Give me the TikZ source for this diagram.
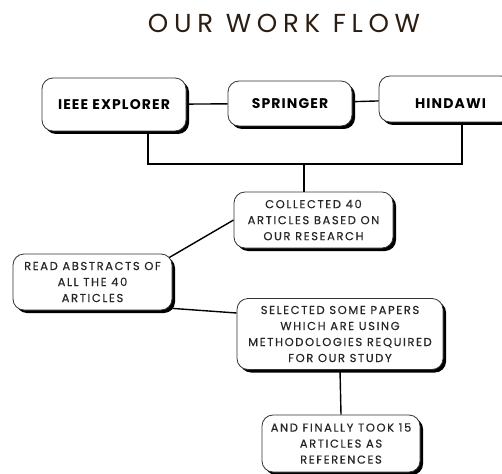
\documentclass[tikz,border=0pt]{standalone}
\usepackage{fontspec}
\setmainfont{Poppins}
\newfontfamily\titlefont[LetterSpace=22]{Poppins}
\newfontfamily\srcfont[LetterSpace=8]{Poppins}
\newfontfamily\stepfont[LetterSpace=14,FakeBold=0.4]{Poppins}
\usepackage{xcolor}
\usepackage{tikz}
\usetikzlibrary{shadows,backgrounds}

\definecolor{inkbrown}{HTML}{2B1D12}

\begin{document}
\begin{tikzpicture}[x=1pt,y=1pt,
    box/.style={draw=black!80, line width=0.8pt, fill=white, rounded corners=11pt,
        drop shadow={shadow xshift=3pt, shadow yshift=-3pt, fill=black, opacity=1},
        align=center, inner sep=0pt},
    srcbox/.style={box, font=\srcfont\bfseries\fontsize{14}{16}\selectfont},
    stepbox/.style={box, font=\stepfont\fontsize{11.5}{16}\selectfont, text=black!85},
    link/.style={black, line width=1.4pt}]
        \useasboundingbox (0,0) rectangle (502,-473);

        % Title
        \node[font=\titlefont\fontsize{26}{30}\selectfont, text=inkbrown] (title) at (284,-23) {OUR WORK FLOW};

        % Sources
        \node[srcbox, minimum width=144, minimum height=53] (ieee) at (114,-104.5) {IEEE EXPLORER};
        \node[srcbox, minimum width=124, minimum height=45] (springer) at (290,-103.5) {SPRINGER};
        \node[srcbox, minimum width=133, minimum height=46, text height=20pt, text depth=0pt] (hindawi) at (445.5,-99) {\hspace*{10pt}HINDAWI};

        % Steps
        \node[stepbox, minimum width=159, minimum height=56] (collected) at (313.5,-220)
            {COLLECTED 40\\ARTICLES BASED ON\\OUR RESEARCH};
        \node[stepbox, minimum width=159, minimum height=56] (read) at (92.5,-282)
            {READ ABSTRACTS OF\\ALL THE 40\\ARTICLES};
        \node[stepbox, minimum width=206, minimum height=71] (selected) at (340,-334)
            {SELECTED SOME PAPERS\\WHICH ARE USING\\METHODOLOGIES REQUIRED\\FOR OUR STUDY};
        \node[stepbox, minimum width=158, minimum height=57] (final) at (341,-443.5)
            {AND FINALLY TOOK 15\\ARTICLES AS\\REFERENCES};

        % Connectors
        \coordinate (join) at (304,-164);
        \begin{scope}[on background layer]
            \draw[link] (ieee) -- (springer);
            \draw[link] (springer) -- (hindawi);
            \draw[link] ([xshift=34pt]ieee.south) |- (join) -| ([xshift=16.5pt]hindawi.south);
            \draw[link] (join) -- (collected.north -| join);
            \draw[link] (collected.west) -- ([xshift=-5pt,yshift=-5pt]read.north east);
            \draw[link] ([yshift=2pt]read.south east) -- ([yshift=21pt]selected.west);
            \draw[link] (selected.south) -- (final.north);
        \end{scope}
    \end{tikzpicture}
\end{document}
